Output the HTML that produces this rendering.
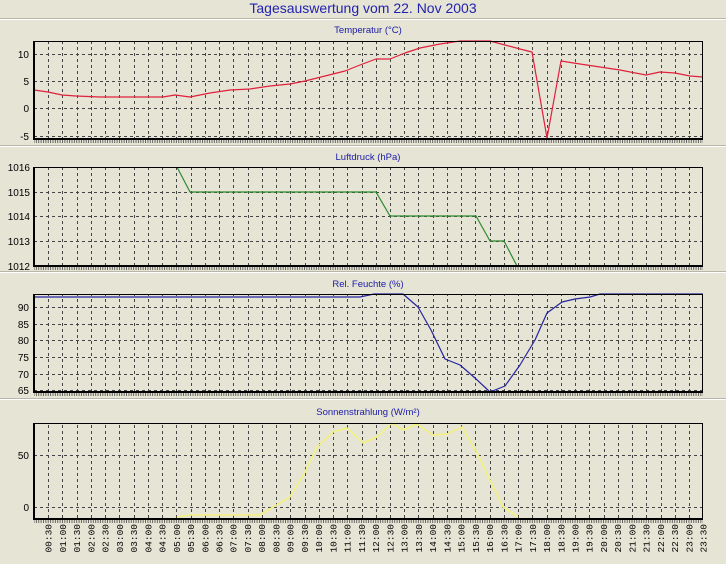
<!DOCTYPE html>
<html><head><meta charset="utf-8"><style>
html,body{margin:0;padding:0;background:#e6e4d5;}
svg{display:block}
text{font-family:"Liberation Sans",sans-serif;}
.mono text{font-family:"Liberation Mono",monospace;}
</style></head><body>
<svg width="726" height="564" xmlns="http://www.w3.org/2000/svg">
<defs>
<pattern id="mt" patternUnits="userSpaceOnUse" x="33.5" y="0" width="2.373" height="564">
<line x1="0.5" y1="0" x2="0.5" y2="564" stroke="#333" stroke-width="0.7"/>
</pattern>
<clipPath id="plots">
<rect x="34" y="41" width="669" height="98"/>
<rect x="34" y="167" width="669" height="99"/>
<rect x="34" y="294" width="669" height="98"/>
<rect x="34" y="423" width="669" height="96"/>
</clipPath>
</defs>
<rect width="726" height="564" fill="#e6e4d5"/>
<text x="363" y="13" font-size="14" fill="#2222b0" text-anchor="middle">Tagesauswertung vom 22. Nov 2003</text>
<g stroke-width="1">
<line x1="0" y1="18.5" x2="726" y2="18.5" stroke="#b8b6a8"/><line x1="0" y1="19.5" x2="726" y2="19.5" stroke="#fff"/>
<line x1="0" y1="145.5" x2="726" y2="145.5" stroke="#b8b6a8"/><line x1="0" y1="146.5" x2="726" y2="146.5" stroke="#fff"/>
<line x1="0" y1="271.5" x2="726" y2="271.5" stroke="#b8b6a8"/><line x1="0" y1="272.5" x2="726" y2="272.5" stroke="#fff"/>
<line x1="0" y1="398.5" x2="726" y2="398.5" stroke="#b8b6a8"/><line x1="0" y1="399.5" x2="726" y2="399.5" stroke="#fff"/>
</g>
<g font-size="9.5" fill="#1a1aa8" text-anchor="middle">
<text x="368" y="33">Temperatur (°C)</text>
<text x="368" y="160">Luftdruck (hPa)</text>
<text x="368" y="287">Rel. Feuchte (%)</text>
<text x="368" y="415">Sonnenstrahlung (W/m²)</text>
</g>
<!-- grids -->
<g clip-path="url(#plots)">
<path stroke="#444" stroke-width="1" stroke-dasharray="3,3" fill="none" d="M48.5 41V520M62.5 41V520M77.5 41V520M91.5 41V520M105.5 41V520M119.5 41V520M134.5 41V520M148.5 41V520M162.5 41V520M176.5 41V520M191.5 41V520M205.5 41V520M219.5 41V520M233.5 41V520M248.5 41V520M262.5 41V520M276.5 41V520M290.5 41V520M305.5 41V520M319.5 41V520M333.5 41V520M347.5 41V520M362.5 41V520M376.5 41V520M390.5 41V520M404.5 41V520M418.5 41V520M433.5 41V520M447.5 41V520M461.5 41V520M475.5 41V520M490.5 41V520M504.5 41V520M518.5 41V520M532.5 41V520M547.5 41V520M561.5 41V520M575.5 41V520M589.5 41V520M604.5 41V520M618.5 41V520M632.5 41V520M646.5 41V520M661.5 41V520M675.5 41V520M689.5 41V520"/>
</g>
<g>
<rect x="34" y="140" width="669" height="3" fill="url(#mt)"/>
<rect x="34" y="267" width="669" height="3" fill="url(#mt)"/>
<rect x="34" y="393" width="669" height="3" fill="url(#mt)"/>
<rect x="34" y="520" width="669" height="3" fill="url(#mt)"/>
</g>
<g stroke="#444" stroke-dasharray="3,3" stroke-width="1">
<line x1="34" y1="54.5" x2="703" y2="54.5"/><line x1="34" y1="81.5" x2="703" y2="81.5"/><line x1="34" y1="108.5" x2="703" y2="108.5"/><line x1="34" y1="136.5" x2="703" y2="136.5"/>
<line x1="34" y1="192.5" x2="703" y2="192.5"/><line x1="34" y1="216.5" x2="703" y2="216.5"/><line x1="34" y1="241.5" x2="703" y2="241.5"/>
<line x1="34" y1="307.5" x2="703" y2="307.5"/><line x1="34" y1="324.5" x2="703" y2="324.5"/><line x1="34" y1="340.5" x2="703" y2="340.5"/><line x1="34" y1="357.5" x2="703" y2="357.5"/><line x1="34" y1="374.5" x2="703" y2="374.5"/><line x1="34" y1="390.5" x2="703" y2="390.5"/>
<line x1="34" y1="455.5" x2="703" y2="455.5"/><line x1="34" y1="507.5" x2="703" y2="507.5"/>
</g>
<!-- series -->
<g fill="none" stroke-width="1.2" stroke-linejoin="round">
<polyline stroke="#e0203c" points="34,90 48,92 62,95 76,96 100,97 130,97 163,97 175,95 190,97 210,93 230,90 250,89 270,86 290,84 305,81 325,76 345,71 360,65 376,59 390,59 405,53 420,48 440,44 460,41 490,41 505,45 520,49 532,52 547,138 561,61 580,64 600,67 620,70 646,75 660,72 675,73 690,76 703,77"/>
<polyline stroke="#2e8a2e" points="177,167 190,192 376,192 390,216 476,216 490,241 504,241 517,266"/>
<polyline stroke="#2424a0" points="34,297 360,297 374,294 403,294 418,307 431,330 445,359 460,365 475,378 490,392 505,386 520,365 535,340 547,313 562,302 575,299 590,297 600,294 703,294"/>
<polyline stroke="#f4f27a" stroke-width="1.5" points="177,517 190,515 260,515 273,507 290,497 305,472 317,447 333,432 347,428 363,443 377,437 392,423 403,430 417,424 433,435 447,434 462,427 477,453 490,480 503,507 518,517"/>
</g>
<!-- frames -->
<g fill="none" stroke="#000">
<rect x="34.5" y="41.5" width="668" height="97"/>
<rect x="34.5" y="167.5" width="668" height="98"/>
<rect x="34.5" y="294.5" width="668" height="97"/>
<rect x="34.5" y="423.5" width="668" height="95"/>
</g>
<g stroke="#000" stroke-width="2">
<line x1="34" y1="139" x2="703" y2="139"/><line x1="34" y1="41" x2="34" y2="140"/>
<line x1="34" y1="266" x2="703" y2="266"/><line x1="34" y1="167" x2="34" y2="267"/>
<line x1="34" y1="392" x2="703" y2="392"/><line x1="34" y1="294" x2="34" y2="393"/>
<line x1="34" y1="519" x2="703" y2="519"/><line x1="34" y1="423" x2="34" y2="520"/>
</g>
<g font-size="10" fill="#000" text-anchor="end">
<text x="29" y="58">10</text><text x="29" y="85">5</text><text x="29" y="112">0</text><text x="29" y="140">-5</text>
<text x="30" y="171">1016</text><text x="30" y="196">1015</text><text x="30" y="220">1014</text><text x="30" y="245">1013</text><text x="30" y="270">1012</text>
<text x="29" y="311">90</text><text x="29" y="328">85</text><text x="29" y="344">80</text><text x="29" y="361">75</text><text x="29" y="378">70</text><text x="29" y="394">65</text>
<text x="29" y="459">50</text><text x="29" y="511">0</text>
</g>
<g class="mono" font-size="9.5" fill="#000" text-anchor="end">
<text transform="translate(51.6,524) rotate(-90)">00:30</text>
<text transform="translate(65.9,524) rotate(-90)">01:00</text>
<text transform="translate(80.1,524) rotate(-90)">01:30</text>
<text transform="translate(94.3,524) rotate(-90)">02:00</text>
<text transform="translate(108.6,524) rotate(-90)">02:30</text>
<text transform="translate(122.8,524) rotate(-90)">03:00</text>
<text transform="translate(137.1,524) rotate(-90)">03:30</text>
<text transform="translate(151.3,524) rotate(-90)">04:00</text>
<text transform="translate(165.5,524) rotate(-90)">04:30</text>
<text transform="translate(179.8,524) rotate(-90)">05:00</text>
<text transform="translate(194.0,524) rotate(-90)">05:30</text>
<text transform="translate(208.3,524) rotate(-90)">06:00</text>
<text transform="translate(222.5,524) rotate(-90)">06:30</text>
<text transform="translate(236.7,524) rotate(-90)">07:00</text>
<text transform="translate(251.0,524) rotate(-90)">07:30</text>
<text transform="translate(265.2,524) rotate(-90)">08:00</text>
<text transform="translate(279.5,524) rotate(-90)">08:30</text>
<text transform="translate(293.7,524) rotate(-90)">09:00</text>
<text transform="translate(307.9,524) rotate(-90)">09:30</text>
<text transform="translate(322.2,524) rotate(-90)">10:00</text>
<text transform="translate(336.4,524) rotate(-90)">10:30</text>
<text transform="translate(350.7,524) rotate(-90)">11:00</text>
<text transform="translate(364.9,524) rotate(-90)">11:30</text>
<text transform="translate(379.1,524) rotate(-90)">12:00</text>
<text transform="translate(393.4,524) rotate(-90)">12:30</text>
<text transform="translate(407.6,524) rotate(-90)">13:00</text>
<text transform="translate(421.9,524) rotate(-90)">13:30</text>
<text transform="translate(436.1,524) rotate(-90)">14:00</text>
<text transform="translate(450.3,524) rotate(-90)">14:30</text>
<text transform="translate(464.6,524) rotate(-90)">15:00</text>
<text transform="translate(478.8,524) rotate(-90)">15:30</text>
<text transform="translate(493.1,524) rotate(-90)">16:00</text>
<text transform="translate(507.3,524) rotate(-90)">16:30</text>
<text transform="translate(521.5,524) rotate(-90)">17:00</text>
<text transform="translate(535.8,524) rotate(-90)">17:30</text>
<text transform="translate(550.0,524) rotate(-90)">18:00</text>
<text transform="translate(564.3,524) rotate(-90)">18:30</text>
<text transform="translate(578.5,524) rotate(-90)">19:00</text>
<text transform="translate(592.7,524) rotate(-90)">19:30</text>
<text transform="translate(607.0,524) rotate(-90)">20:00</text>
<text transform="translate(621.2,524) rotate(-90)">20:30</text>
<text transform="translate(635.5,524) rotate(-90)">21:00</text>
<text transform="translate(649.7,524) rotate(-90)">21:30</text>
<text transform="translate(663.9,524) rotate(-90)">22:00</text>
<text transform="translate(678.2,524) rotate(-90)">22:30</text>
<text transform="translate(692.4,524) rotate(-90)">23:00</text>
<text transform="translate(706.6,524) rotate(-90)">23:30</text>
</g>
</svg>
</body></html>
